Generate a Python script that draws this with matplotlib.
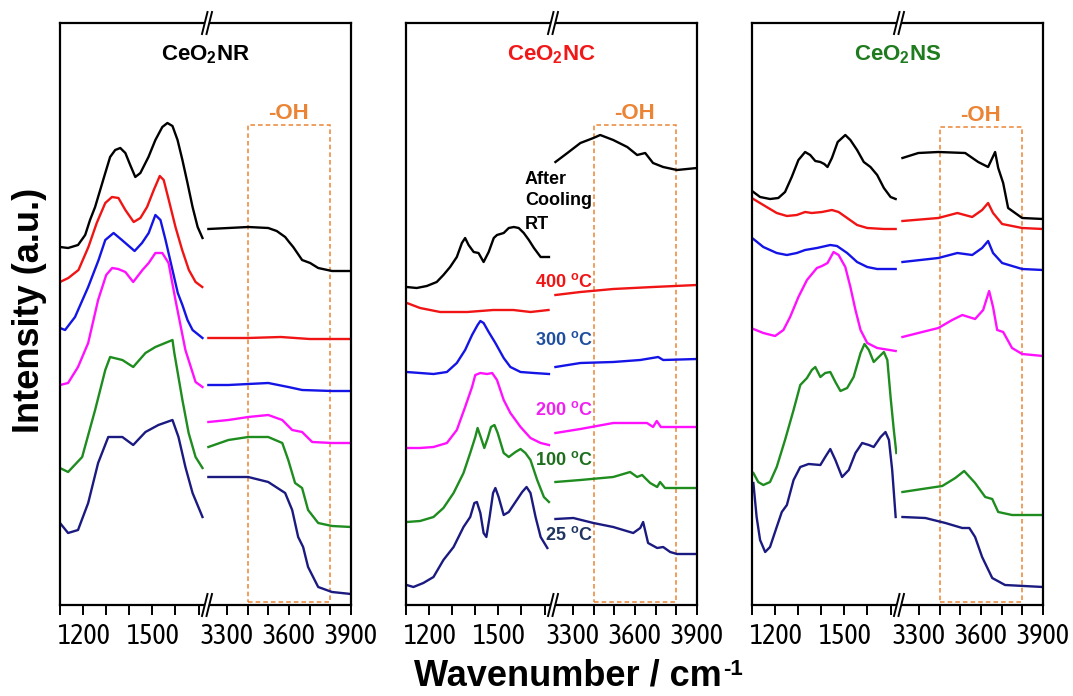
import matplotlib
matplotlib.use('Agg')
import matplotlib.pyplot as plt
from matplotlib import font_manager as fm
from matplotlib.font_manager import FontProperties
from matplotlib.textpath import TextPath
from matplotlib.patches import Rectangle, Polygon
from matplotlib.lines import Line2D

# ---------------- data (wavenumber / cm-1, intensity a.u.) ----------------
# CeO2 NR
NR_RT_LW = [1100, 1135, 1178, 1209, 1230, 1252, 1274, 1296, 1317, 1339, 1361, 1383, 1404, 1426, 1448, 1483, 1513, 1543, 1565, 1587, 1609, 1630, 1652, 1674, 1696, 1717]
NR_RT_LI = [358, 357, 360, 370, 385, 398, 415, 432, 448, 455, 457, 452, 440, 428, 432, 448, 465, 478, 482, 479, 465, 445, 422, 398, 378, 367]
NR_RT_HW = [3209, 3306, 3402, 3499, 3540, 3581, 3600, 3620, 3663, 3702, 3741, 3808, 3900]
NR_RT_HI = [376, 377, 378, 377, 374, 368, 363, 358, 345, 342, 337, 334, 334]

NR_400_LW = [1100, 1136, 1180, 1223, 1259, 1296, 1325, 1353, 1383, 1419, 1448, 1477, 1506, 1532, 1549, 1571, 1600, 1629, 1658, 1687, 1716]
NR_400_LI = [323, 327, 335, 358, 382, 402, 408, 407, 395, 383, 387, 398, 415, 429, 425, 405, 378, 355, 335, 323, 318]
NR_400_HW = [3209, 3400, 3560, 3700, 3900]
NR_400_HI = [267, 267, 268, 266, 266]

NR_300_LW = [1100, 1122, 1165, 1222, 1267, 1296, 1332, 1368, 1423, 1455, 1484, 1513, 1535, 1557, 1587, 1610, 1630, 1652, 1674, 1717]
NR_300_LI = [277, 275, 288, 318, 345, 365, 372, 365, 354, 362, 372, 390, 385, 365, 335, 312, 300, 285, 275, 267]
NR_300_HW = [3209, 3306, 3499, 3596, 3663, 3808, 3900]
NR_300_HI = [220, 220, 222, 218, 215, 214, 214]

NR_200_LW = [1100, 1135, 1178, 1222, 1265, 1300, 1326, 1352, 1383, 1417, 1457, 1484, 1513, 1543, 1570, 1600, 1643, 1687, 1717]
NR_200_LI = [220, 222, 238, 262, 305, 330, 337, 336, 333, 323, 335, 342, 352, 352, 342, 305, 255, 223, 218]
NR_200_HW = [3209, 3306, 3402, 3499, 3567, 3615, 3663, 3712, 3808, 3900]
NR_200_HI = [183, 185, 188, 190, 185, 175, 173, 163, 162, 162]

NR_100_LW = [1100, 1135, 1196, 1252, 1296, 1317, 1370, 1417, 1470, 1513, 1587, 1595, 1630, 1657, 1687, 1717]
NR_100_LI = [137, 133, 148, 195, 235, 248, 245, 238, 252, 258, 265, 252, 205, 172, 148, 137]
NR_100_HW = [3209, 3306, 3402, 3499, 3567, 3596, 3629, 3663, 3692, 3741, 3808, 3900]
NR_100_HI = [158, 165, 168, 168, 162, 145, 122, 117, 95, 82, 79, 78]

NR_25_LW = [1100, 1135, 1178, 1222, 1265, 1309, 1370, 1417, 1470, 1526, 1587, 1613, 1643, 1674, 1717]
NR_25_LI = [82, 72, 75, 102, 142, 168, 168, 160, 173, 180, 185, 168, 138, 112, 88]
NR_25_HW = [3209, 3306, 3402, 3499, 3581, 3615, 3644, 3668, 3692, 3741, 3808, 3900]
NR_25_HI = [128, 128, 128, 123, 112, 95, 68, 58, 38, 18, 13, 11]

# CeO2 NC
NC_RT_LW = [1103, 1146, 1190, 1233, 1262, 1291, 1320, 1342, 1356, 1371, 1393, 1414, 1436, 1458, 1480, 1494, 1523, 1545, 1567, 1588, 1610, 1632, 1654, 1683, 1719]
NC_RT_LI = [318, 317, 319, 323, 330, 338, 348, 362, 367, 360, 353, 352, 343, 353, 367, 370, 372, 377, 378, 377, 372, 365, 357, 348, 348]
NC_RT_HW = [3214, 3272, 3335, 3398, 3431, 3494, 3562, 3610, 3649, 3687, 3736, 3803, 3900]
NC_RT_HI = [443, 452, 462, 467, 470, 465, 458, 450, 452, 442, 438, 435, 437]

NC_400_LW = [1104, 1161, 1248, 1365, 1478, 1565, 1639, 1717]
NC_400_LI = [302, 297, 293, 293, 295, 295, 293, 295]
NC_400_HW = [3214, 3335, 3494, 3687, 3900]
NC_400_HI = [310, 313, 316, 318, 320]

NC_300_LW = [1103, 1161, 1219, 1277, 1320, 1356, 1386, 1410, 1422, 1436, 1458, 1487, 1523, 1552, 1596, 1654, 1719]
NC_300_LI = [233, 232, 231, 233, 242, 255, 270, 280, 284, 282, 273, 262, 247, 238, 233, 232, 231]
NC_300_HW = [3214, 3335, 3494, 3625, 3712, 3736, 3900]
NC_300_HI = [238, 242, 243, 245, 248, 245, 246]

NC_200_LW = [1103, 1161, 1219, 1277, 1320, 1356, 1386, 1400, 1422, 1451, 1473, 1494, 1523, 1552, 1596, 1639, 1683, 1719]
NC_200_LI = [157, 157, 158, 162, 175, 198, 218, 230, 232, 231, 232, 225, 205, 192, 178, 167, 162, 160]
NC_200_HW = [3214, 3335, 3494, 3658, 3687, 3705, 3725, 3900]
NC_200_HI = [172, 176, 182, 182, 178, 184, 178, 178]

NC_100_LW = [1103, 1161, 1219, 1262, 1306, 1349, 1378, 1400, 1410, 1425, 1439, 1454, 1468, 1483, 1497, 1523, 1545, 1574, 1596, 1617, 1639, 1668, 1697, 1719]
NC_100_LI = [83, 84, 88, 97, 112, 132, 152, 168, 177, 167, 157, 167, 178, 180, 172, 152, 148, 153, 156, 152, 145, 125, 108, 103]
NC_100_HW = [3214, 3335, 3494, 3576, 3610, 3634, 3673, 3707, 3721, 3745, 3803, 3900]
NC_100_HI = [123, 125, 128, 133, 128, 130, 122, 118, 123, 117, 117, 117]

NC_25_LW = [1103, 1132, 1175, 1219, 1262, 1306, 1349, 1378, 1396, 1407, 1422, 1436, 1448, 1462, 1477, 1487, 1501, 1523, 1545, 1574, 1603, 1622, 1639, 1661, 1683, 1712]
NC_25_LI = [20, 18, 22, 28, 45, 58, 78, 88, 102, 103, 92, 72, 68, 88, 112, 117, 108, 90, 93, 103, 113, 118, 112, 88, 68, 57]
NC_25_HW = [3214, 3301, 3398, 3494, 3591, 3625, 3639, 3663, 3707, 3736, 3770, 3803, 3900]
NC_25_HI = [86, 87, 82, 78, 72, 77, 83, 62, 57, 58, 53, 51, 51]

# CeO2 NS
NS_RT_LW = [1106, 1135, 1178, 1214, 1243, 1272, 1301, 1330, 1352, 1374, 1396, 1413, 1427, 1446, 1471, 1504, 1526, 1555, 1584, 1613, 1642, 1671, 1700, 1722]
NS_RT_LI = [413, 408, 406, 407, 413, 428, 445, 453, 450, 444, 443, 441, 438, 447, 463, 470, 465, 455, 443, 438, 430, 417, 408, 406]
NS_RT_HW = [3219, 3296, 3393, 3523, 3586, 3634, 3668, 3683, 3707, 3731, 3799, 3900]
NS_RT_HI = [447, 452, 453, 452, 443, 438, 453, 437, 422, 397, 387, 386]

NS_400_LW = [1106, 1149, 1207, 1251, 1294, 1330, 1359, 1403, 1446, 1475, 1512, 1555, 1599, 1671, 1722]
NS_400_LI = [406, 400, 392, 389, 390, 393, 392, 393, 395, 393, 387, 380, 377, 376, 376]
NS_400_HW = [3219, 3393, 3485, 3557, 3605, 3634, 3658, 3702, 3799, 3900]
NS_400_HI = [384, 387, 392, 388, 395, 402, 392, 381, 377, 376]

NS_300_LW = [1106, 1149, 1207, 1251, 1294, 1330, 1381, 1439, 1468, 1512, 1555, 1599, 1642, 1722]
NS_300_LI = [366, 358, 352, 350, 352, 355, 357, 360, 359, 352, 343, 338, 336, 336]
NS_300_HW = [3219, 3393, 3485, 3557, 3605, 3634, 3658, 3702, 3799, 3900]
NS_300_HI = [343, 347, 352, 350, 357, 364, 352, 342, 336, 335]

NS_200_LW = [1106, 1149, 1200, 1236, 1265, 1301, 1338, 1381, 1403, 1427, 1453, 1475, 1504, 1526, 1548, 1570, 1599, 1642, 1722]
NS_200_LI = [276, 272, 269, 275, 288, 308, 325, 337, 339, 342, 353, 350, 338, 318, 295, 275, 262, 257, 254]
NS_200_HW = [3219, 3315, 3393, 3460, 3509, 3571, 3610, 3639, 3658, 3678, 3707, 3750, 3799, 3900]
NS_200_HI = [268, 273, 277, 285, 290, 286, 295, 314, 298, 275, 273, 257, 251, 249]

NS_100_LW = [1106, 1127, 1149, 1178, 1207, 1243, 1280, 1309, 1338, 1359, 1374, 1396, 1417, 1439, 1461, 1483, 1512, 1540, 1570, 1587, 1606, 1627, 1649, 1671, 1686, 1700, 1714, 1725]
NS_100_LI = [132, 123, 120, 123, 138, 165, 195, 220, 227, 235, 238, 228, 232, 233, 223, 214, 217, 228, 252, 261, 255, 243, 248, 253, 245, 208, 175, 152]
NS_100_HW = [3219, 3315, 3412, 3475, 3518, 3571, 3620, 3654, 3683, 3750, 3900]
NS_100_HI = [113, 116, 119, 127, 134, 122, 108, 106, 93, 90, 90]

NS_25_LW = [1106, 1120, 1135, 1157, 1178, 1207, 1229, 1251, 1280, 1309, 1345, 1396, 1417, 1439, 1461, 1490, 1519, 1548, 1577, 1606, 1627, 1657, 1678, 1693, 1707, 1722]
NS_25_LI = [122, 88, 65, 53, 58, 78, 93, 100, 125, 138, 141, 140, 148, 156, 145, 128, 135, 152, 162, 160, 158, 168, 173, 165, 135, 88]
NS_25_HW = [3219, 3330, 3427, 3509, 3543, 3571, 3605, 3654, 3716, 3900]
NS_25_HI = [88, 87, 82, 77, 77, 68, 48, 27, 20, 18]

SAMPLES = ['CeO$_\\mathbf{2}$NR', 'CeO$_\\mathbf{2}$NC', 'CeO$_\\mathbf{2}$NS']
SERIES = ['RT', '400', '300', '200', '100', '25']
TEMP_LABELS = ['400 $^\\mathbf{o}$C', '300 $^\\mathbf{o}$C', '200 $^\\mathbf{o}$C', '100 $^\\mathbf{o}$C', '25 $^\\mathbf{o}$C']
LOW_MAJOR = [1200, 1500]
LOW_MINOR = [1100, 1300, 1400, 1600, 1700]
HIGH_MAJOR = [3300, 3600, 3900]
HIGH_MINOR = [3400, 3500, 3700, 3800]
OH_BAND = (3400, 3800)

# ---------------- styling ----------------
plt.rcParams['font.family'] = ['Liberation Sans', 'DejaVu Sans']
plt.rcParams['mathtext.fontset'] = 'custom'
plt.rcParams['mathtext.rm'] = 'Liberation Sans:bold'
plt.rcParams['mathtext.bf'] = 'Liberation Sans:bold'
plt.rcParams['mathtext.it'] = 'Liberation Sans:italic'


def pick_tick_font():
    """Pick the narrowest-looking installed sans font for the tick labels."""
    target_ratio = 2.55  # ink width / ink height of '1200' in the reference
    best = None
    seen = set()
    cands = []
    for f in fm.fontManager.ttflist:
        fn = f.fname.lower()
        nm = f.name.lower()
        if f.style != 'normal':
            continue
        try:
            wt = int(f.weight)
        except Exception:
            wt = 400
        if wt != 400:
            continue
        if ('narrow' in fn or 'condensed' in fn or 'narrow' in nm
                or f.stretch in ('condensed', 'semi-condensed', 'extra-condensed')
                or nm == 'liberation sans'):
            if 'mono' in fn or ('serif' in fn and 'sans' not in fn):
                continue
            if fn in seen:
                continue
            seen.add(fn)
            cands.append(f.fname)
    for fname in cands:
        try:
            fp = FontProperties(fname=fname)
            ext = TextPath((0, 0), '1200', size=100, prop=fp).get_extents()
            if ext.height <= 0:
                continue
            r = ext.width / ext.height
            score = abs(r - target_ratio)
            if best is None or score < best[0]:
                best = (score, fp, ext.width / 100.0, ext.height / 100.0)
        except Exception:
            continue
    if best is None:
        fp = FontProperties(family='Liberation Sans')
        ext = TextPath((0, 0), '1200', size=100, prop=fp).get_extents()
        best = (0, fp, ext.width / 100.0, ext.height / 100.0)
    _, fp, wem, hem = best
    size_px = min(51.0 / wem, 20.0 / hem)
    fp = fp.copy()
    fp.set_size(size_px * 0.72)
    return fp


TICK_FP = pick_tick_font()

W, H = 1073, 696
fig = plt.figure(figsize=(W / 100, H / 100), dpi=100)

line_colors = ['#000000', '#F01414', '#1414E6', '#FF10FF', '#1E8C1E', '#1A1A80']
title_colors = ['#000000', '#F01818', '#1E7B1E']
label_colors = ['#F01414', '#1F4E9E', '#F020F0', '#1E6E1E', '#1F3460']
orange = '#EB8535'

data = {}
g = globals()
for s in ['NR', 'NC', 'NS']:
    for k in SERIES:
        data[(s, k)] = (g[f'{s}_{k}_LW'], g[f'{s}_{k}_LI'], g[f'{s}_{k}_HW'], g[f'{s}_{k}_HI'])

panel_left = [60, 406, 752]
seg_w = 145.5
top_px, bot_px = 23, 605
ybot = 1 - bot_px / H
yh = (bot_px - top_px) / H

for p, s in enumerate(['NR', 'NC', 'NS']):
    x0 = panel_left[p]
    axL = fig.add_axes([x0 / W, ybot, seg_w / W, yh])
    axR = fig.add_axes([(x0 + seg_w) / W, ybot, seg_w / W, yh])
    for ax in (axL, axR):
        ax.set_ylim(0, 582)
        ax.set_yticks([])
        for sp in ax.spines.values():
            sp.set_linewidth(1.6)
        ax.tick_params(axis='x', which='both', direction='out', length=7, width=1.4, pad=6)
        ax.patch.set_alpha(0)
    axL.spines['right'].set_visible(False)
    axR.spines['left'].set_visible(False)
    axL.set_xlim(1100, 1730)
    axR.set_xlim(3195, 3900)
    axL.set_xticks(LOW_MAJOR)
    axL.set_xticks(LOW_MINOR, minor=True)
    axR.set_xticks(HIGH_MAJOR)
    axR.set_xticks(HIGH_MINOR, minor=True)
    axL.set_xticklabels([str(v) for v in LOW_MAJOR], fontproperties=TICK_FP)
    axR.set_xticklabels([str(v) for v in HIGH_MAJOR], fontproperties=TICK_FP)

    for i, k in enumerate(SERIES):
        lw_, li_, hw_, hi_ = data[(s, k)]
        axL.plot(lw_, li_, color=line_colors[i], lw=1.7, solid_joinstyle='round')
        axR.plot(hw_, hi_, color=line_colors[i], lw=1.7, solid_joinstyle='round')

    # -OH box
    ytop_box = 480 if p < 2 else 478
    axR.add_patch(Rectangle((OH_BAND[0], 3), OH_BAND[1] - OH_BAND[0], ytop_box - 3,
                            fill=False, ec=orange, lw=1.1, ls=(0, (3, 2))))
    axR.text(sum(OH_BAND) / 2 - 5, ytop_box + 1, '-OH', color=orange, fontsize=16,
             fontweight='bold', ha='center', va='bottom')

    # title
    xb = x0 + seg_w
    fig.text(xb / W, 1 - 55 / H, SAMPLES[p], color=title_colors[p], fontsize=16,
             fontweight='bold', ha='center', va='center')

    # break marks
    for yc in (top_px, bot_px):
        poly = Polygon([((xb - 3) / W, 1 - (yc + 11) / H), ((xb + 1) / W, 1 - (yc + 11) / H),
                        ((xb + 6) / W, 1 - (yc - 11) / H), ((xb + 2) / W, 1 - (yc - 11) / H)],
                       closed=True, transform=fig.transFigure, fc='white', ec='none', zorder=10)
        fig.add_artist(poly)
        for dx in (-3.5, 1.0):
            fig.add_artist(Line2D([(xb + dx) / W, (xb + dx + 5.5) / W],
                                  [1 - (yc + 11) / H, 1 - (yc - 11) / H],
                                  transform=fig.transFigure, color='black', lw=1.4, zorder=11))

# panel 2 temperature labels
for txt, yy in zip(['After', 'Cooling', 'RT'], [179, 201, 224]):
    fig.text(525 / W, 1 - yy / H, txt, fontsize=13, fontweight='bold', ha='left', va='center')
for txt, col, yy in zip(TEMP_LABELS, label_colors, [282, 340, 410, 460, 535]):
    fig.text(593 / W, 1 - yy / H, txt, fontsize=13, fontweight='bold', color=col,
             ha='right', va='center')

fig.text(30 / W, 1 - 310 / H, 'Intensity (a.u.)', rotation=90, fontsize=26,
         fontweight='bold', ha='center', va='center')

# x label with a raised "-1"
xl = fig.text(568 / W, 1 - 686 / H, 'Wavenumber / cm', fontsize=26,
              fontweight='bold', ha='center', va='baseline')
renderer = fig.canvas.get_renderer()
bb = xl.get_window_extent(renderer=renderer)
fig.text((bb.x1 + 1) / W, (bb.y0 + 0.55 * bb.height) / H, '-1', fontsize=16,
         fontweight='bold', ha='left', va='baseline')

fig.savefig('out.png', dpi=100, facecolor='white')
